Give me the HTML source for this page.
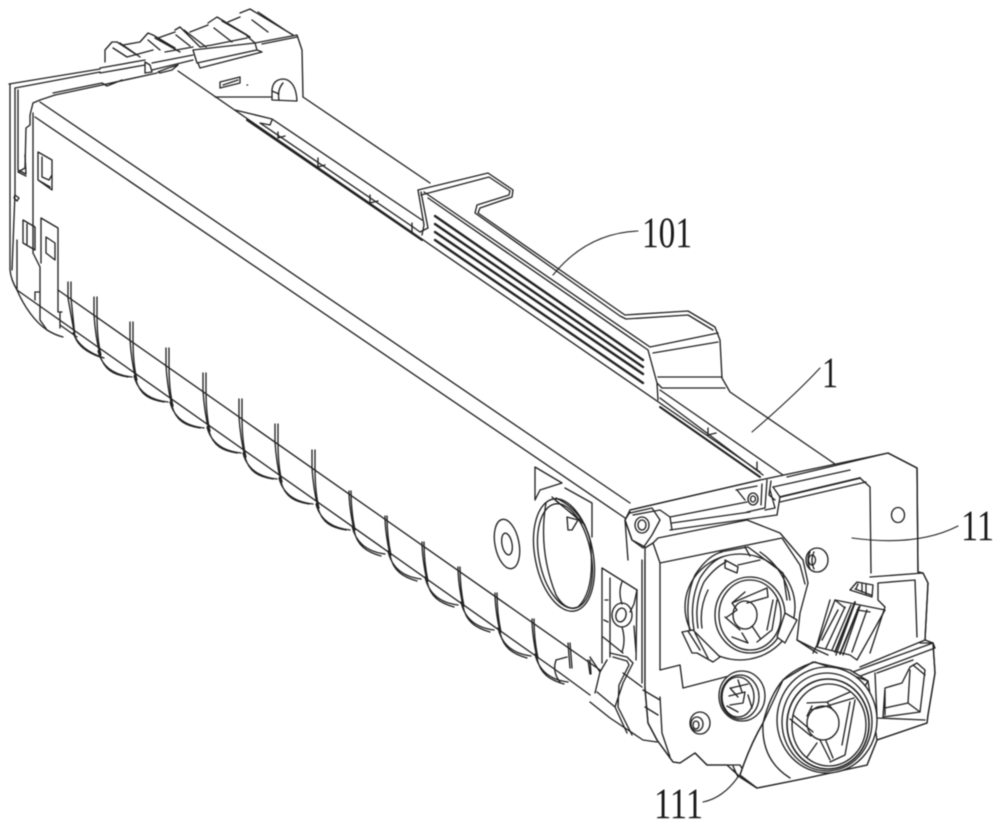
<!DOCTYPE html>
<html><head><meta charset="utf-8"><style>
html,body{margin:0;padding:0;background:#fff}
svg{display:block;filter:blur(.4px)}
text{font-family:"Liberation Serif",serif;font-size:43px;fill:#1a1a1a;stroke:none}
</style></head><body>
<svg width="1000" height="829" viewBox="0 0 1000 829" xmlns="http://www.w3.org/2000/svg">
<defs>
<g id="rl"><path d="M0-18V0C1 15 3 28 6 40M3-18V0C3 15 4 28 7 40" /><path d="M6 40C10 55 20 60 34 62M4 36C8 52 20 60 38 62"/></g>
<g id="rs"><path d="M0-3C0 10 2 22 5 36M2-3C2 10 3 22 6 36" /><path d="M5 36C8 52 18 58 32 62M3 32C7 50 20 58 36 60"/></g>
</defs>
<g fill="none" stroke="#222" stroke-width="1.35" stroke-linejoin="round" stroke-linecap="round">
<!-- back frame -->
<path d="M9 84L100 69M100 68L145 60M100 73L145 65M15 88L100 72"/>
<path d="M18 90L18 170L26 174L25 155M15 88L15 193L12 270M10 84V270Q11 280 17 290Q22 302 30 313Q38 324 47 330Q55 335 63 337M17 240V290"/>
<path d="M105 62V50L112 42H117L137 55M120 43L140 57M113 48L127 57M127 57L153 50M123 45L140 42M140 42L148 33L153 35L175 48M155 38L180 52M148 40L160 50M158 38L175 32M175 30L180 27L200 47M184 30L206 47M176 35L190 46M190 32L208 25M208 23L217 17L247 35M222 21L250 37M214 28L232 42M228 22L240 17M240 13L250 9L293 35M258 12L285 30M252 20L268 32M165 52L193 47M200 47L212 45L247 38"/>
<path d="M193 50L197 63L257 50L262 52L200 68L198 63M193 50L255 43L297 35L302 50L303 97M247 36L255 43L257 50M262 44L297 37"/>
<path d="M145 62V73L152 72L150 65L145 62M152 63L193 55M152 70L193 60"/>
<path d="M53 93L102 83L107 86L122 80M55 95L102 85L157 73"/>
<path d="M158 72L168 68L178 65L172 70L160 73Z"/>
<path d="M220 82L240 77V83L220 88ZM223 85L238 80"/>
<path d="M247 85h.6"/>
<path d="M272 100V90Q273 79 284 79Q296 81 297 101M272 100L296 101M279 100Q277 90 283 83M272 91L279 94"/>
<path d="M215 97H272M303 97L430 183"/>
<!-- top surface -->
<path d="M178 71L760 472M40 102L630 503M35 117L628 520"/>
<path stroke-width="2" d="M247 120L422 240M660 407L760 477"/>
<path d="M235 110L272 119L422 220M272 120L270 125L260 123L413 227L420 232M660 390L783 475M660 398L763 475"/>
<path d="M278 132V138L285 136M318 158V167L325 165M370 195V203L378 201M412 223V232M708 428V435L716 433M757 462V470"/>
<!-- fin -->
<path d="M418 190L488 173L513 190L512 197L480 208L478 213L622 313L625 315L688 311L715 327L720 340L722 378L730 392L835 464"/>
<path d="M421 195L489 177L510 191L509 195L477 205L475 213L620 316L626 319L688 315L713 330"/>
<path d="M418 190L424 225L422 235M421 192L428 228L420 232M424 192L650 347M428 198L648 350M648 350L657 383L658 400M650 347L718 333M653 353L718 342M658 377H722M662 388H725M657 383L662 388"/>
<g stroke-width="2.4"><path d="M435 216L643 360M435 224L643 367M435 232L643 374M435 240L643 383"/></g>
<!-- left details -->
<path d="M30 115L33 103L40 100L55 95M33 113V253L40 267V292M35 292L40 292L40 320L47 330M35 292V300M30 115V125L26 128L25 168L18 172L26 176"/>
<path d="M38 152L52 160V190L38 180ZM42 157V177L49 180L52 175M38 180L50 187"/>
<path d="M23 220L35 227V250L23 243ZM27 224V244"/>
<path d="M41 218L58 228V312H62M41 218V263M46 237L55 243V260L46 253Z"/>
<path d="M15 195L19 198L17 201L14 198Z"/>
<path d="M60 312V328M60 325L77 337"/>
<!-- long lines -->
<path d="M58 290L600 670M17 290L560 673"/>
<!-- ribs and scallops -->
<path d="M68 282V298L75 337M71 282V298L75 337M75 337Q80 350 100 357M73 333Q80 350 104 358"/>
<use href="#rl" x="94" y="315"/><use href="#rl" x="130" y="340"/><use href="#rl" x="166" y="366"/><use href="#rl" x="203" y="391"/><use href="#rl" x="239" y="417"/><use href="#rl" x="275" y="442"/><use href="#rl" x="312" y="468"/>
<use href="#rs" x="349" y="494"/><use href="#rs" x="385" y="519"/><use href="#rs" x="422" y="545"/><use href="#rs" x="458" y="570"/><use href="#rs" x="495" y="596"/><use href="#rs" x="532" y="622"/>
<path d="M568 643L570 668M570 643L572 668M588 660L590 674M590 660L591 674"/>
<path d="M556 660Q552 672 560 682M556 660L567 657M590 702L610 718L643 740L657 742M560 673L590 695"/>
<!-- big circle & washer -->
<ellipse cx="564" cy="555" rx="29" ry="57" transform="rotate(-11 564 555)"/>
<ellipse cx="565" cy="556" rx="26" ry="53" transform="rotate(-11 565 556)"/>
<path d="M546 503Q538 550 556 595Q566 612 578 607Q596 590 590 540Q582 510 556 498"/>
<path d="M535 467L562 483L540 490L535 500ZM565 488L592 503V537M555 500L580 520M552 497L585 525"/>
<path d="M567 517L578 520L572 530L568 530Z"/>
<ellipse cx="507" cy="544" rx="12" ry="25" transform="rotate(-11 507 544)"/>
<ellipse cx="507" cy="544" rx="5" ry="11" transform="rotate(-11 507 544)"/>
<!-- side end area -->
<path d="M602 568L637 590M602 568V663M610 578V657M603 637L623 653M605 600H608M604 620L608 622"/>
<path d="M622 582Q618 592 622 604M630 612L634 604L637 590M622 627Q626 640 622 652M634 626L636 652"/>
<ellipse cx="622" cy="615" rx="10" ry="12"/><ellipse cx="621" cy="615" rx="5" ry="7" transform="rotate(15 621 615)"/>
<path d="M642 560V683M645 560V688M637 590L636 660"/>
<path d="M610 653L627 657L633 663L623 683L615 707L627 733M613 657L627 661L629 665L619 685L618 707L632 735M590 657L600 672L595 693M597 692L615 707M623 673L642 687M607 660L600 672"/>
<!-- end plate -->
<path fill="#fff" d="M630 510L760 480L888 453L917 468L918 572L923 573L928 583L925 640L933 643L935 673L928 715L927 723L877 740L867 765L807 778L757 788L740 777L727 765H707L695 753L680 763L673 762L657 740L648 723L645 690V547L632 540L625 520Z"/>
<path d="M630 510L760 480M787 477L888 453L917 468L918 572M633 515L660 510L670 517L747 502M773 487L850 470M860 478L870 487L871 573"/>
<path stroke-width="1.9" d="M780 497L860 478"/>
<path d="M780 502L866 482"/>
<path d="M630 512L625 520L632 540L643 548M625 520L628 560M630 513L652 508L660 520L652 535L643 548M645 688L648 723L657 740L673 762L680 763L695 753L707 765H727L740 765L746 775M740 777L757 788L807 778L867 765L877 740L927 723L928 715L935 673L933 643L920 643"/>
<path d="M643 690L660 700V697L662 733L670 757M645 707L658 715"/>
<ellipse cx="642" cy="525" rx="7" ry="8"/><ellipse cx="642" cy="525" rx="4" ry="5"/>
<path d="M670 517L672 530M672 523L750 512M670 530L777 515M737 490L745 500M736 490L757 486"/>
<ellipse cx="753" cy="499" rx="5" ry="6"/><ellipse cx="753" cy="499" rx="2.5" ry="3"/>
<path d="M767 480L765 508L747 512M770 490L775 508L765 510M771 481L769 495L775 500M762 484L761 505M773 487L780 497L777 515"/>
<ellipse cx="898" cy="515" rx="6.5" ry="7.5"/>
<!-- plate main -->
<path d="M653 543L660 563V670M658 538L747 520L780 533L803 560L808 583L800 613L797 640L817 653M653 543L658 538M660 563L782 538L800 565L805 584M660 670L680 665L683 688L733 675"/>
<path d="M645 548L653 543"/>
<ellipse cx="700" cy="723" rx="10" ry="11"/><ellipse cx="697" cy="724" rx="6" ry="7"/><ellipse cx="696" cy="725" rx="3" ry="4"/>
<ellipse cx="817" cy="560" rx="11" ry="12"/><path d="M810 552Q806 560 810 569M814 552Q810 560 814 569"/><ellipse cx="812" cy="560" rx="3.5" ry="5"/>
<!-- upper coupling -->
<ellipse cx="740" cy="607" rx="55" ry="53"/>
<path d="M690 632Q684 600 695 575Q708 555 722 552M694 630Q689 602 700 578Q710 562 722 557M698 628Q694 603 704 582Q714 568 726 562M702 628Q699 608 708 590M790 600Q786 570 760 552"/>
<path d="M720 552L748 547L783 573L787 600M725 560L738 567L737 573L725 568ZM738 565L760 560M745 547L750 556"/>
<ellipse cx="750" cy="615" rx="35" ry="38" fill="#fff"/>
<ellipse cx="750" cy="615" rx="31" ry="35"/>
<ellipse cx="745" cy="615" rx="12" ry="14"/>
<path d="M732 603L767 588L768 597L747 603M732 603L737 610L727 617M725 617L740 630M742 633L748 643L732 637M767 630L773 600M777 600L772 630L757 642M752 626L760 638M732 603L745 592"/>
<path fill="#fff" d="M785 613L797 620L785 643L777 637Z"/>
<path fill="#fff" d="M682 632L693 630L720 657L713 662L697 653L692 653Z"/>
<path d="M688 631L700 650M695 633L708 658"/>
<!-- connector -->
<path fill="#fff" d="M835 600L885 610L857 660L850 655L817 647Z"/>
<path d="M830 600L817 645L813 653M838 610L822 640M845 607L826 648M851 605L832 650M855 603L836 655M860 606L843 655M867 610L852 652M835 600L845 608M857 610L870 612"/>
<path stroke-width="1.8" d="M855 602L835 652M859 607L840 654"/>
<path fill="#fff" d="M857 582L873 585L872 597L850 590Z"/>
<path d="M858 584L856 589M862 584L862 592M866 584L866 594M855 589L871 595"/>
<path d="M797 640L817 650L828 655"/>
<!-- right window -->
<path d="M870 577L923 573L928 583L925 640L860 667M878 583L915 580L917 637M878 583V600L885 607L870 653M923 573L918 572"/>
<path d="M850 673L933 643L935 648L855 678M875 673L877 718L925 720M877 673L913 660"/>
<path d="M885 688L902 683L910 667L917 663L925 670L920 712L883 717ZM885 690V715M913 665L925 675M910 670L908 703L920 712M908 703L885 708"/>
<!-- small coupling -->
<ellipse cx="742" cy="696" rx="23" ry="25" fill="#fff"/>
<ellipse cx="740" cy="697" rx="19" ry="22"/>
<ellipse cx="738" cy="697" rx="16" ry="20"/>
<path d="M731 688L748 684M729 696L745 692L743 703L730 705M738 680L742 692M727 706L738 712M748 695L752 708M738 697L730 688"/>
<!-- lower coupling -->
<path fill="#fff" d="M763 723L783 680L813 662L850 670L868 681L877 740L867 765L807 778L757 788L740 775Q750 745 763 723Z"/>
<path d="M740 775Q750 745 763 723Q770 695 783 680Q795 668 815 662M815 662L868 681L865 686L830 672"/>
<path d="M757 788L740 777L733 770M733 766L738 777"/>
<path d="M763 723Q761 760 790 778"/>
<ellipse cx="827" cy="720" rx="50" ry="53" fill="#fff"/>
<ellipse cx="827" cy="722" rx="45" ry="49"/>
<ellipse cx="828" cy="724" rx="41" ry="45" stroke-width="1.6"/>
<ellipse cx="829" cy="725" rx="37" ry="41"/>
<ellipse cx="823" cy="723" rx="16" ry="17"/>
<path d="M793 715L813 732M790 719L811 736M817 743L807 757M820 740L830 760M826 741L833 758M807 703L827 702L850 692M810 710L827 706L854 698M827 702L833 710M855 700L845 755L830 762M850 702L842 745M812 706L807 716"/>
<!-- leaders -->
<path stroke-width="1.1" d="M638 231Q587 233 553 275M820 368Q795 395 752 432M958 526Q917 547 852 538M703 802Q723 798 738 777"/>
</g>
<text x="642" y="247" textLength="50" lengthAdjust="spacingAndGlyphs">101</text>
<text x="822" y="387" textLength="16" lengthAdjust="spacingAndGlyphs">1</text>
<text x="961" y="540" textLength="33" lengthAdjust="spacingAndGlyphs">11</text>
<text x="654" y="818" textLength="49" lengthAdjust="spacingAndGlyphs">111</text>
</svg>
</body></html>
